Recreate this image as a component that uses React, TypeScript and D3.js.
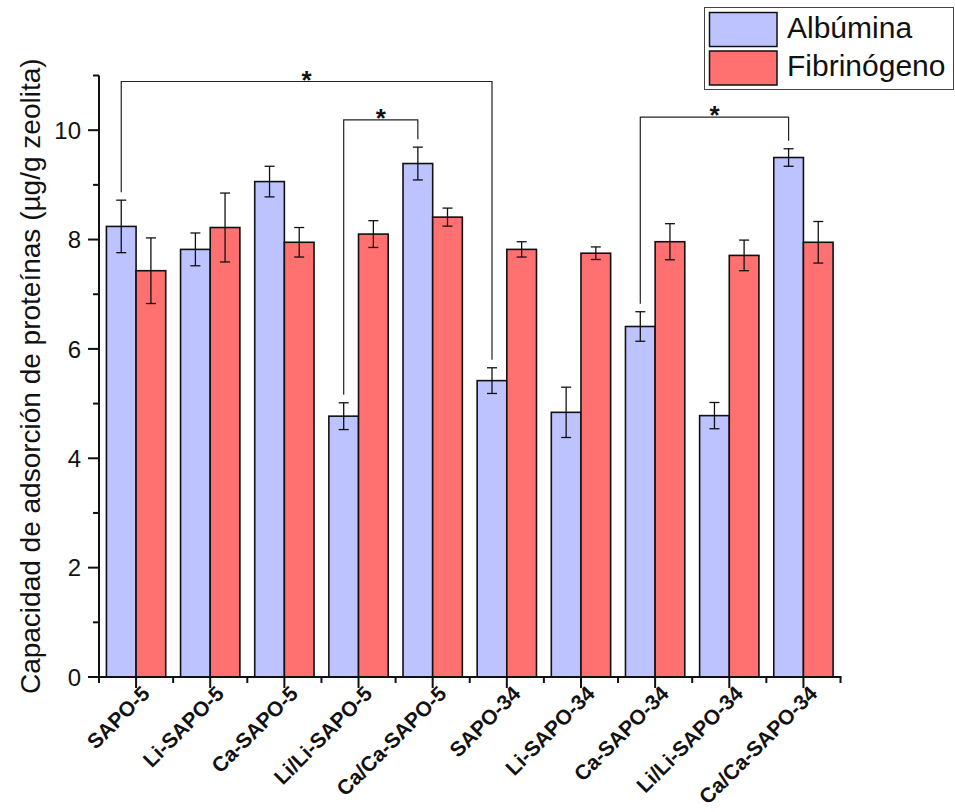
import React from "react";
import * as d3 from "d3";

// Sample names on the category axis
const categories = [
  "SAPO-5",
  "Li-SAPO-5",
  "Ca-SAPO-5",
  "Li/Li-SAPO-5",
  "Ca/Ca-SAPO-5",
  "SAPO-34",
  "Li-SAPO-34",
  "Ca-SAPO-34",
  "Li/Li-SAPO-34",
  "Ca/Ca-SAPO-34",
];

// Adsorbed protein (µg/g zeolite) and standard deviation
const albumin = [8.24, 7.82, 9.06, 4.77, 9.39, 5.42, 4.84, 6.41, 4.78, 9.5];
const albuminErr = [0.48, 0.3, 0.28, 0.245, 0.3, 0.235, 0.46, 0.27, 0.24, 0.16];
const fibrinogen = [7.43, 8.22, 7.95, 8.1, 8.41, 7.82, 7.75, 7.96, 7.71, 7.95];
const fibrinogenErr = [0.6, 0.63, 0.27, 0.245, 0.165, 0.14, 0.115, 0.33, 0.28, 0.38];

// Significance brackets between albumin bars (category indices, bracket height)
const bracketFrom = [0, 3, 7];
const bracketTo = [5, 4, 9];
const bracketLevel = [10.89, 10.19, 10.24];

const seriesNames = ["Albúmina", "Fibrinógeno"];
const seriesColors = ["#BCC3FF", "#FF7171"];

const majorTicks = [0, 2, 4, 6, 8, 10];
const minorTicks = [1, 3, 5, 7, 9, 11];

const W = 955;
const H = 812;
const left = 99;
const right = 840.5;
const bottom = 677;
const top = 75.5;

export default function App() {
  const x = d3.scaleBand<string>().domain(categories).range([left, right]).paddingInner(0).paddingOuter(0);
  const bw = x.bandwidth();
  const sub = d3
    .scaleBand<string>()
    .domain(["alb", "fib"])
    .range([bw * 0.1, bw * 0.9])
    .padding(0);
  const y = d3.scaleLinear().domain([0, 11]).range([bottom, top]);

  const series = [
    { key: "alb", values: albumin, errs: albuminErr, color: seriesColors[0] },
    { key: "fib", values: fibrinogen, errs: fibrinogenErr, color: seriesColors[1] },
  ];

  const capHalf = 5;
  const font = "Liberation Sans, Arial, Helvetica, sans-serif";

  const boundaries = categories.map((c) => x(c) as number).concat([right]);

  return (
    <svg
      width={W}
      height={H}
      style={{ position: "absolute", left: 0, top: 0, background: "#fff" }}
      fontFamily={font}
    >
      {/* bars */}
      {series.map((s) =>
        categories.map((c, i) => {
          const x0 = (x(c) as number) + (sub(s.key) as number);
          return (
            <rect
              key={s.key + c}
              x={x0}
              y={y(s.values[i])}
              width={sub.bandwidth()}
              height={y(0) - y(s.values[i])}
              fill={s.color}
              stroke="#111"
              strokeWidth={1.6}
            />
          );
        })
      )}

      {/* error bars */}
      {series.map((s) =>
        categories.map((c, i) => {
          const cx = (x(c) as number) + (sub(s.key) as number) + sub.bandwidth() / 2;
          const hi = y(s.values[i] + s.errs[i]);
          const lo = y(s.values[i] - s.errs[i]);
          return (
            <g key={"e" + s.key + c} stroke="#111" strokeWidth={1.3}>
              <line x1={cx} x2={cx} y1={hi} y2={lo} />
              <line x1={cx - capHalf} x2={cx + capHalf} y1={hi} y2={hi} />
              <line x1={cx - capHalf} x2={cx + capHalf} y1={lo} y2={lo} />
            </g>
          );
        })
      )}

      {/* significance brackets */}
      {bracketFrom.map((f, k) => {
        const t = bracketTo[k];
        const xa = (x(categories[f]) as number) + (sub("alb") as number) + sub.bandwidth() / 2;
        const xb = (x(categories[t]) as number) + (sub("alb") as number) + sub.bandwidth() / 2;
        const yl = y(bracketLevel[k]);
        const ya = y(albumin[f] + albuminErr[f]) - 8;
        const yb = y(albumin[t] + albuminErr[t]) - 8;
        return (
          <g key={"b" + k}>
            <path
              d={`M${xa},${ya}V${yl}H${xb}V${yb}`}
              fill="none"
              stroke="#222"
              strokeWidth={1.2}
            />
            <text
              x={(xa + xb) / 2}
              y={yl + 7}
              textAnchor="middle"
              fontSize={26}
              fontWeight="bold"
              fill="#111"
            >
              *
            </text>
          </g>
        );
      })}

      {/* y axis */}
      <line x1={left} x2={left} y1={top} y2={bottom + 1} stroke="#111" strokeWidth={2} />
      {majorTicks.map((t) => (
        <g key={"ym" + t}>
          <line x1={left - 11} x2={left} y1={y(t)} y2={y(t)} stroke="#111" strokeWidth={2} />
          <text
            x={left - 18}
            y={y(t)}
            dy="0.36em"
            textAnchor="end"
            fontSize={24}
            fill="#111"
          >
            {t}
          </text>
        </g>
      ))}
      {minorTicks.map((t) => (
        <line key={"yn" + t} x1={left - 6} x2={left} y1={y(t)} y2={y(t)} stroke="#111" strokeWidth={2} />
      ))}
      <text
        transform={`translate(40,${(top + bottom) / 2 + 0}) rotate(-90)`}
        textAnchor="middle"
        fontSize={28}
        fill="#111"
      >
        Capacidad de adsorción de proteínas (µg/g zeolita)
      </text>

      {/* x axis */}
      <line x1={left - 1} x2={right + 1} y1={bottom} y2={bottom} stroke="#111" strokeWidth={2} />
      {categories.map((c) => {
        const cx = (x(c) as number) + bw / 2;
        return (
          <g key={"xt" + c}>
            <line x1={cx} x2={cx} y1={bottom} y2={bottom + 11} stroke="#111" strokeWidth={2} />
            <text
              transform={`translate(${cx + 15},${bottom + 18}) rotate(-45)`}
              textAnchor="end"
              fontSize={21}
              fontWeight="bold"
              fill="#111"
            >
              {c}
            </text>
          </g>
        );
      })}
      {boundaries.map((b, i) => (
        <line key={"xn" + i} x1={b} x2={b} y1={bottom} y2={bottom + 6} stroke="#111" strokeWidth={2} />
      ))}

      {/* legend */}
      <g>
        <rect x={704.5} y={7.5} width={249} height={82} fill="#fff" stroke="#444" strokeWidth={1} />
        {seriesNames.map((n, i) => (
          <g key={n}>
            <rect
              x={709.5}
              y={12.5 + i * 38.5}
              width={67.5}
              height={34}
              fill={seriesColors[i]}
              stroke="#111"
              strokeWidth={1.5}
            />
            <text x={787} y={38 + i * 38} fontSize={30} fill="#111">
              {n}
            </text>
          </g>
        ))}
      </g>
    </svg>
  );
}
